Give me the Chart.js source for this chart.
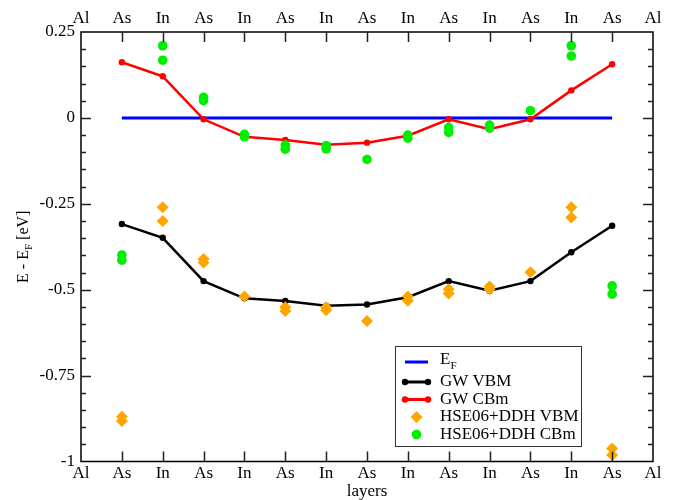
<!DOCTYPE html>
<html>
<head>
<meta charset="utf-8">
<script src="https://cdn.jsdelivr.net/npm/chart.js@4.4.1/dist/chart.umd.min.js"></script>
<style>
  html, body { margin: 0; padding: 0; background: #fff; }
</style>
</head>
<body>
<canvas id="chart" width="684" height="500"></canvas>
<script>
// layer sequence along the structure
const layers = ['Al', 'As', 'In', 'As', 'In', 'As', 'In', 'As', 'In', 'As', 'In', 'As', 'In', 'As', 'Al'];

// Fermi level (reference line)
const fermi = [null, 0, 0, 0, 0, 0, 0, 0, 0, 0, 0, 0, 0, 0, null];

// GW band edges
const gwVbm = [null, -0.309, -0.349, -0.475, -0.525, -0.533, -0.547, -0.543, -0.522, -0.475, -0.503, -0.475, -0.391, -0.314, null];
const gwCbm = [null, 0.162, 0.121, -0.004, -0.055, -0.064, -0.078, -0.072, -0.052, -0.004, -0.033, -0.004, 0.080, 0.156, null];

// HSE06+DDH, two values per layer (second one missing where only one is visible)
const hseVbmA = [null, -0.870, -0.260, -0.411, -0.520, -0.551, -0.551, -0.591, -0.520, -0.499, -0.491, -0.449, -0.260, -0.962, null];
const hseVbmB = [null, -0.882, -0.300, -0.421, null, -0.562, -0.560, null, -0.532, -0.511, -0.499, null, -0.290, -0.981, null];
const hseCbmA = [null, -0.399, 0.210, 0.060, -0.048, -0.079, -0.081, -0.121, -0.050, -0.028, -0.021, 0.021, 0.210, -0.489, null];
const hseCbmB = [null, -0.414, 0.168, 0.050, -0.055, -0.091, -0.090, null, -0.059, -0.042, -0.030, null, 0.180, -0.513, null];

// y axis
const yMin = -1;
const yMax = 0.25;
const yStep = 0.25;
const yMinorStep = 0.05;

const FONT = 'Liberation Serif';

const toPoints = (arr) => arr.map((v, i) => ({ x: i, y: v })).filter((p) => p.y !== null);

// frame + inward ticks on all four sides
const framePlugin = {
  id: 'frame',
  afterDatasetsDraw(chart) {
    const { ctx, chartArea } = chart;
    const { left, right, top, bottom } = chartArea;
    const x = chart.scales.x;
    const y = chart.scales.y;
    ctx.save();
    ctx.strokeStyle = '#000';
    ctx.lineWidth = 1.5;
    ctx.strokeRect(left, top, right - left, bottom - top);

    ctx.strokeStyle = '#222';
    ctx.beginPath();
    for (let i = 1; i < layers.length - 1; i++) {
      const px = Math.round(x.getPixelForValue(i)) + 0.5;
      ctx.moveTo(px, bottom); ctx.lineTo(px, bottom - 10);
      ctx.moveTo(px, top); ctx.lineTo(px, top + 10);
    }
    const n = Math.round((yMax - yMin) / yMinorStep);
    for (let k = 1; k < n; k++) {
      const v = yMin + k * yMinorStep;
      const major = k % Math.round(yStep / yMinorStep) === 0;
      const len = major ? 10 : 5;
      const py = Math.round(y.getPixelForValue(v)) + 0.5;
      ctx.moveTo(left, py); ctx.lineTo(left + len, py);
      ctx.moveTo(right, py); ctx.lineTo(right - len, py);
    }
    ctx.stroke();
    ctx.restore();
  },
  afterDraw(chart) {
    const { ctx, chartArea } = chart;
    ctx.save();
    ctx.fillStyle = '#000';

    // y title: E - E_F [eV]
    ctx.translate(22, (chartArea.top + chartArea.bottom) / 2);
    ctx.rotate(-Math.PI / 2);
    ctx.textBaseline = 'alphabetic';
    ctx.font = `16px ${FONT}`;
    const p1 = 'E - E';
    const p2 = 'F';
    const p3 = ' [eV]';
    const w1 = ctx.measureText(p1).width;
    const w3 = ctx.measureText(p3).width;
    ctx.font = `11px ${FONT}`;
    const w2 = ctx.measureText(p2).width;
    let sx = -(w1 + w2 + w3) / 2;
    ctx.font = `16px ${FONT}`;
    ctx.fillText(p1, sx, 6);
    ctx.font = `11px ${FONT}`;
    ctx.fillText(p2, sx + w1, 10);
    ctx.font = `16px ${FONT}`;
    ctx.fillText(p3, sx + w1 + w2, 6);
    ctx.restore();

    // x title
    ctx.save();
    ctx.fillStyle = '#000';
    ctx.font = `17px ${FONT}`;
    ctx.textAlign = 'center';
    ctx.textBaseline = 'middle';
    ctx.fillText('layers', (chartArea.left + chartArea.right) / 2, 492);
    ctx.restore();

    // legend
    ctx.save();
    const bx = 395.5, by = 346.5, bw = 186, bh = 100;
    ctx.strokeStyle = '#333';
    ctx.lineWidth = 1;
    ctx.fillStyle = '#fff';
    ctx.fillRect(bx, by, bw, bh);
    ctx.strokeRect(bx, by, bw, bh);
    const rows = [362, 382, 399.5, 417, 434.5];
    const sx0 = 405, sx1 = 428, tx = 440;
    // E_F
    ctx.strokeStyle = 'blue';
    ctx.lineWidth = 3;
    ctx.beginPath(); ctx.moveTo(sx0, rows[0]); ctx.lineTo(sx1, rows[0]); ctx.stroke();
    // GW lines
    [['#000', rows[1]], ['red', rows[2]]].forEach(([c, ry]) => {
      ctx.strokeStyle = c; ctx.fillStyle = c; ctx.lineWidth = 3;
      ctx.beginPath(); ctx.moveTo(sx0, ry); ctx.lineTo(sx1, ry); ctx.stroke();
      [sx0, sx1].forEach((px) => { ctx.beginPath(); ctx.arc(px, ry, 3.2, 0, Math.PI * 2); ctx.fill(); });
    });
    // orange diamond
    const cx = (sx0 + sx1) / 2;
    ctx.fillStyle = 'orange';
    ctx.beginPath();
    ctx.moveTo(cx, rows[3] - 6); ctx.lineTo(cx + 6, rows[3]); ctx.lineTo(cx, rows[3] + 6); ctx.lineTo(cx - 6, rows[3]);
    ctx.closePath(); ctx.fill();
    // green circle
    ctx.fillStyle = '#00ee00';
    ctx.beginPath(); ctx.arc(cx, rows[4], 4.8, 0, Math.PI * 2); ctx.fill();

    ctx.fillStyle = '#000';
    ctx.textBaseline = 'middle';
    ctx.font = `17px ${FONT}`;
    ctx.fillText('E', tx, rows[0] - 2);
    const we = ctx.measureText('E').width;
    ctx.font = `11px ${FONT}`;
    ctx.fillText('F', tx + we, rows[0] + 4);
    ctx.font = `17px ${FONT}`;
    ctx.fillText('GW VBM', tx, rows[1]);
    ctx.fillText('GW CBm', tx, rows[2]);
    ctx.fillText('HSE06+DDH VBM', tx, rows[3]);
    ctx.fillText('HSE06+DDH CBm', tx, rows[4]);
    ctx.restore();
  }
};

const tickFont = { family: FONT, size: 17 };
const layerTicks = (padding) => ({
  font: tickFont,
  color: '#000',
  padding,
  stepSize: 1,
  autoSkip: false,
  maxRotation: 0,
  callback: (v) => layers[v],
});

new Chart(document.getElementById('chart'), {
  type: 'line',
  data: {
    datasets: [
      {
        label: 'HSE06+DDH CBm',
        data: toPoints(hseCbmA).concat(toPoints(hseCbmB)),
        showLine: false,
        pointStyle: 'circle',
        pointRadius: 4.8,
        pointBackgroundColor: '#00ee00',
        pointBorderWidth: 0,
        order: 1,
      },
      {
        label: 'HSE06+DDH VBM',
        data: toPoints(hseVbmA).concat(toPoints(hseVbmB)),
        showLine: false,
        pointStyle: 'rectRot',
        pointRadius: 6,
        pointBackgroundColor: 'orange',
        pointBorderWidth: 0,
        order: 2,
      },
      {
        label: 'GW CBm',
        data: toPoints(gwCbm),
        borderColor: 'red',
        borderWidth: 2.5,
        pointRadius: 3.2,
        pointBackgroundColor: 'red',
        pointBorderWidth: 0,
        tension: 0,
        order: 3,
      },
      {
        label: 'GW VBM',
        data: toPoints(gwVbm),
        borderColor: '#000',
        borderWidth: 2.5,
        pointRadius: 3.2,
        pointBackgroundColor: '#000',
        pointBorderWidth: 0,
        tension: 0,
        order: 4,
      },
      {
        label: 'EF',
        data: toPoints(fermi),
        borderColor: 'blue',
        borderWidth: 3,
        pointRadius: 0,
        order: 5,
      },
    ],
  },
  options: {
    responsive: false,
    animation: false,
    layout: { padding: { left: 0, right: 31, top: 0, bottom: 0 } },
    plugins: {
      legend: { display: false },
      tooltip: { enabled: false },
    },
    scales: {
      x: {
        type: 'linear',
        position: 'bottom',
        min: 0,
        max: layers.length - 1,
        grid: { display: false, drawTicks: false, tickLength: 0 },
        border: { display: false },
        ticks: layerTicks(2),
        afterFit(scale) { scale.height = 38.5; },
      },
      x2: {
        type: 'linear',
        position: 'top',
        min: 0,
        max: layers.length - 1,
        grid: { display: false, drawTicks: false, tickLength: 0 },
        border: { display: false },
        ticks: layerTicks(3),
        afterFit(scale) { scale.height = 32; },
      },
      y: {
        type: 'linear',
        min: yMin,
        max: yMax,
        grid: { display: false, drawTicks: false, tickLength: 0 },
        border: { display: false },
        ticks: {
          stepSize: yStep,
          font: tickFont,
          color: '#000',
          padding: 6,
          callback: (v) => String(+v.toFixed(2)),
        },
        afterFit(scale) { scale.width = 81; },
      },
    },
  },
  plugins: [framePlugin],
});
</script>
</body>
</html>
